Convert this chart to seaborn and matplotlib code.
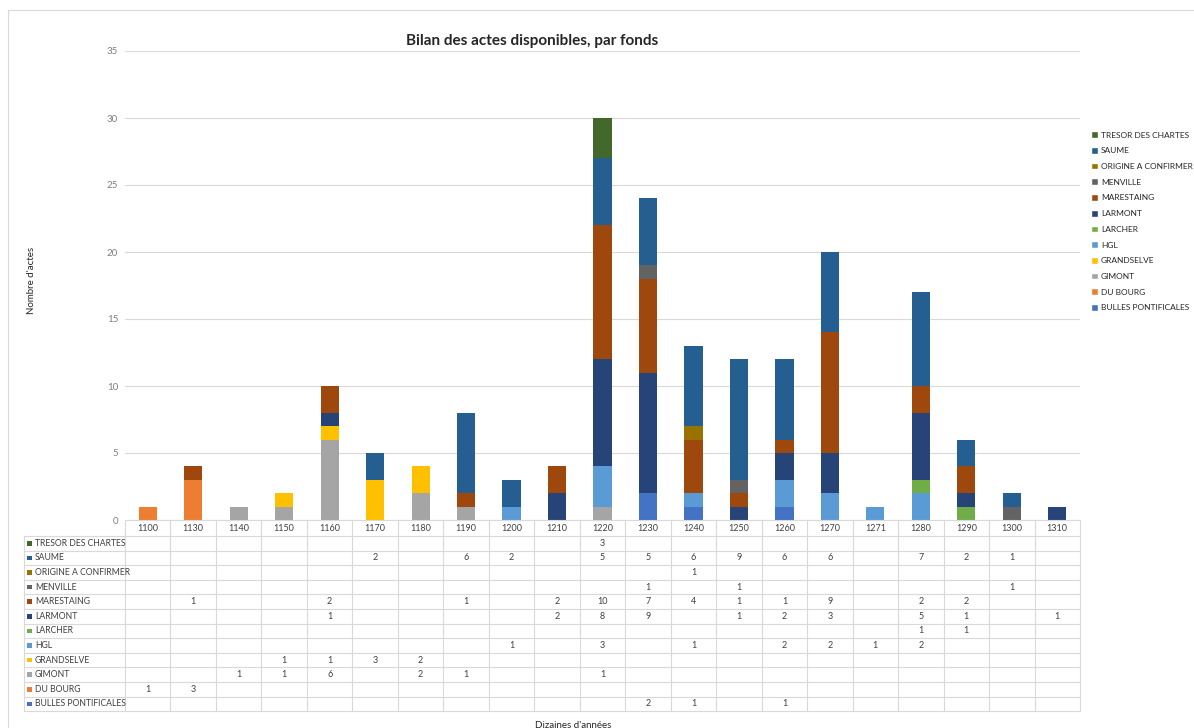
import numpy as np
import pandas as pd
import seaborn as sns
import matplotlib.pyplot as plt
from matplotlib.patches import Patch, Rectangle
from matplotlib.transforms import blended_transform_factory

# decades shown on the category axis
years = ['1100', '1130', '1140', '1150', '1160', '1170', '1180', '1190', '1200', '1210', '1220',
         '1230', '1240', '1250', '1260', '1270', '1271', '1280', '1290', '1300', '1310']

# number of acts per fonds (stacking order, bottom first)
bulles = [0, 0, 0, 0, 0, 0, 0, 0, 0, 0, 0, 2, 1, 0, 1, 0, 0, 0, 0, 0, 0]
du_bourg = [1, 3, 0, 0, 0, 0, 0, 0, 0, 0, 0, 0, 0, 0, 0, 0, 0, 0, 0, 0, 0]
gimont = [0, 0, 1, 1, 6, 0, 2, 1, 0, 0, 1, 0, 0, 0, 0, 0, 0, 0, 0, 0, 0]
grandselve = [0, 0, 0, 1, 1, 3, 2, 0, 0, 0, 0, 0, 0, 0, 0, 0, 0, 0, 0, 0, 0]
hgl = [0, 0, 0, 0, 0, 0, 0, 0, 1, 0, 3, 0, 1, 0, 2, 2, 1, 2, 0, 0, 0]
larcher = [0, 0, 0, 0, 0, 0, 0, 0, 0, 0, 0, 0, 0, 0, 0, 0, 0, 1, 1, 0, 0]
larmont = [0, 0, 0, 0, 1, 0, 0, 0, 0, 2, 8, 9, 0, 1, 2, 3, 0, 5, 1, 0, 1]
marestaing = [0, 1, 0, 0, 2, 0, 0, 1, 0, 2, 10, 7, 4, 1, 1, 9, 0, 2, 2, 0, 0]
menville = [0, 0, 0, 0, 0, 0, 0, 0, 0, 0, 0, 1, 0, 1, 0, 0, 0, 0, 0, 1, 0]
origine = [0, 0, 0, 0, 0, 0, 0, 0, 0, 0, 0, 0, 1, 0, 0, 0, 0, 0, 0, 0, 0]
saume = [0, 0, 0, 0, 0, 2, 0, 6, 2, 0, 5, 5, 6, 9, 6, 6, 0, 7, 2, 1, 0]
tresor = [0, 0, 0, 0, 0, 0, 0, 0, 0, 0, 3, 0, 0, 0, 0, 0, 0, 0, 0, 0, 0]

fonds = ['BULLES PONTIFICALES', 'DU BOURG', 'GIMONT', 'GRANDSELVE', 'HGL', 'LARCHER',
         'LARMONT', 'MARESTAING', 'MENVILLE', 'ORIGINE A CONFIRMER', 'SAUME', 'TRESOR DES CHARTES']
series = [bulles, du_bourg, gimont, grandselve, hgl, larcher,
          larmont, marestaing, menville, origine, saume, tresor]
colors = ['#4472C4', '#ED7D31', '#A5A5A5', '#FFC000', '#5B9BD5', '#70AD47',
          '#264478', '#9E480E', '#636363', '#997300', '#255E91', '#43682B']

sns.set_style('white')
plt.rcParams['font.family'] = ['Lato', 'DejaVu Sans']

W, H = 1194, 728
fig = plt.figure(figsize=(W / 100, H / 100), dpi=100)
ax = fig.add_axes([125 / W, 1 - 520 / H, (1080 - 125) / W, (520 - 51) / H])

# stacked columns
bottom = np.zeros(len(years))
for name, vals, c in zip(fonds, series, colors):
    df = pd.DataFrame({'decade': years, 'n': vals})
    sns.barplot(data=df, x='decade', y='n', order=years, bottom=bottom, color=c,
                saturation=1, width=0.4, linewidth=0, errorbar=None, ax=ax)
    bottom = bottom + np.array(vals)

ax.set_xlim(-0.5, len(years) - 0.5)
ax.set_ylim(0, 35)
ax.set_yticks(range(0, 36, 5))
ax.tick_params(axis='y', length=0, labelsize=7, labelcolor='#7f7f7f', pad=5)
ax.tick_params(axis='x', length=0, labelbottom=False)
ax.set_xlabel('')
ax.set_ylabel('')
ax.grid(axis='y', color='#d9d9d9', linewidth=0.8)
ax.set_axisbelow(True)
for s in ['top', 'right', 'left']:
    ax.spines[s].set_visible(False)
ax.spines['bottom'].set_color('#d9d9d9')

# data table under the chart
def fy(px):
    return 1 - px / H

def fx(px):
    return px / W

tr = blended_transform_factory(ax.transData, fig.transFigure)
grid_c = '#d9d9d9'
top_px, head_bot, row_h = 521, 536, 14.6
n_rows = len(fonds)
bot_px = head_bot + n_rows * row_h

for i in range(len(years) + 1):
    fig.add_artist(plt.Line2D([i - 0.5, i - 0.5], [fy(top_px), fy(bot_px)],
                              transform=tr, color=grid_c, lw=0.8))
fig.add_artist(plt.Line2D([fx(24), fx(24)], [fy(head_bot), fy(bot_px)],
                          transform=fig.transFigure, color=grid_c, lw=0.8))
for r in range(n_rows + 1):
    y = fy(head_bot + r * row_h)
    fig.add_artist(plt.Line2D([fx(24), fx(1080)], [y, y],
                              transform=fig.transFigure, color=grid_c, lw=0.8))

for i, yr in enumerate(years):
    fig.text(i, fy((top_px + head_bot) / 2), yr, transform=tr, ha='center', va='center',
             fontsize=6.5, color='#404040')

# rows listed from the top series down
for r, idx in enumerate(range(n_rows - 1, -1, -1)):
    yc = fy(head_bot + (r + 0.5) * row_h)
    fig.add_artist(Rectangle((fx(27), yc - 2.3 / H), 4.6 / W, 4.6 / H,
                             transform=fig.transFigure, color=colors[idx], lw=0))
    fig.text(fx(35), yc, fonds[idx], ha='left', va='center', fontsize=6.2, color='#404040')
    for i, v in enumerate(series[idx]):
        if v:
            fig.text(i, yc, str(v), transform=tr, ha='center', va='center',
                     fontsize=6.5, color='#404040')

# legend, top series first
handles = [Patch(facecolor=colors[i], label=fonds[i]) for i in range(n_rows - 1, -1, -1)]
fig.legend(handles=handles, loc='upper left', bbox_to_anchor=(fx(1088), fy(128)),
           frameon=False, fontsize=6, handlelength=0.85, handleheight=0.85,
           handletextpad=0.3, labelspacing=1.02, borderaxespad=0)

fig.text(fx(532), fy(41), 'Bilan des actes disponibles, par fonds', ha='center', va='center',
         fontsize=11, fontweight='bold', color='#262626')
fig.text(fx(31), fy(280), "Nombre d'actes", rotation=90, ha='center', va='center',
         fontsize=7, color='#262626')
fig.text(fx(573), fy(725), "Dizaines d'années", ha='center', va='center',
         fontsize=7, color='#262626')

# chart frame
fig.add_artist(Rectangle((fx(8), fy(760)), (W + 20) / W, 750 / H, transform=fig.transFigure,
                         fill=False, edgecolor='#d9d9d9', lw=0.8))

fig.savefig('out.png', dpi=100)
